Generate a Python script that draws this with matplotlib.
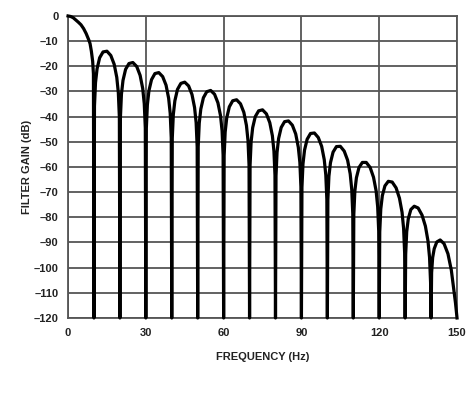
import matplotlib
matplotlib.use("Agg")
import matplotlib.pyplot as plt

# notches every 10 Hz, curve read lobe by lobe off the picture
lobe_start = [0, 10, 20, 30, 40, 50, 60, 70, 80, 90, 100, 110, 120, 130, 140]

# first lobe (0-10 Hz)
lobe1_freq = [0, 1, 2, 3, 4, 5, 6, 7, 8, 8.5, 9, 9.5, 9.8]
lobe1_gain = [0, -0.2, -0.7, -1.6, -2.5, -3.5, -5.0, -7.0, -9.5, -11.0, -14.0, -18.0, -23.0]

# the other lobes: same offsets from their left notch
lobe_offsets = [0.2, 0.6, 1.2, 2.2, 3.5, 5, 6.5, 7.8, 8.8, 9.4, 9.8]
lobe_gains = [
    [-35.8, -26.5, -21.0, -16.6, -14.3, -14.0, -15.7, -19.2, -24.4, -30.5, -40.2],
    [-40.5, -31.1, -25.6, -21.2, -18.9, -18.5, -20.1, -23.6, -28.8, -34.9, -44.5],
    [-44.6, -35.3, -29.7, -25.3, -22.9, -22.5, -24.1, -27.5, -32.7, -38.7, -48.4],
    [-48.6, -39.2, -33.7, -29.2, -26.8, -26.3, -27.8, -31.2, -36.4, -42.4, -52.0],
    [-51.9, -42.6, -37.0, -32.5, -30.1, -29.6, -31.1, -34.5, -39.6, -45.6, -55.3],
    [-55.5, -46.1, -40.5, -36.1, -33.7, -33.3, -34.9, -38.3, -43.5, -49.5, -59.2],
    [-59.3, -50.0, -44.4, -40.0, -37.7, -37.3, -38.9, -42.4, -47.6, -53.7, -63.3],
    [-63.5, -54.2, -48.7, -44.3, -42.0, -41.7, -43.4, -46.9, -52.2, -58.2, -67.9],
    [-68.1, -58.8, -53.3, -49.0, -46.7, -46.5, -48.3, -51.8, -57.1, -63.2, -72.9],
    [-73.0, -63.7, -58.3, -54.1, -51.9, -51.8, -53.7, -57.3, -62.7, -68.9, -78.6],
    [-78.9, -69.6, -64.3, -60.2, -58.2, -58.2, -60.2, -64.1, -69.5, -75.8, -85.5],
    [-85.8, -76.7, -71.4, -67.5, -65.7, -66.0, -68.3, -72.4, -78.0, -84.4, -94.2],
    [-94.7, -85.7, -80.6, -76.9, -75.6, -76.3, -79.1, -83.5, -89.4, -95.9, -105.9],
    [-102.0, -96.0, -92.5, -89.8, -89.0, -90.5, -94.5, -101.0, -109.0, -114.0, -118.0],
]
floor_db = -120

freq = list(lobe1_freq)
gain = list(lobe1_gain)
for start, g in zip(lobe_start[1:], lobe_gains):
    freq.append(start)
    gain.append(floor_db)
    freq += [start + o for o in lobe_offsets]
    gain += g
freq.append(150)
gain.append(floor_db)

xticks = [0, 30, 60, 90, 120, 150]
yticks = list(range(0, -130, -10))

plt.rcParams['font.family'] = ['Liberation Sans', 'DejaVu Sans']

fig = plt.figure(figsize=(4.74, 3.95), dpi=100)
ax = fig.add_axes([0.1435, 0.195, 0.8207, 0.7646])

ax.plot(freq, gain, color='black', lw=2.3, solid_joinstyle='round', zorder=3, clip_on=False)

ax.set_xlim(0, 150)
ax.set_ylim(-120, 0)
ax.set_xticks(xticks)
ax.set_yticks(yticks)
ax.set_xticklabels([str(t) for t in xticks], fontsize=8, fontweight='bold', color='#222222')
ax.set_yticklabels([str(t).replace('-', '\u2013') for t in yticks], fontsize=8,
                   fontweight='bold', color='#222222')
ax.tick_params(length=0, pad=7)
ax.grid(True, color='#555555', lw=1.3)
ax.set_axisbelow(True)
for sp in ax.spines.values():
    sp.set_color('#555555')
    sp.set_linewidth(1.3)

ax.set_xlabel('FREQUENCY (Hz)', fontsize=8, fontweight='bold', color='#222222', labelpad=10)
ax.set_ylabel('FILTER GAIN (dB)', fontsize=8, fontweight='bold', color='#222222', labelpad=1)

fig.savefig('out.png', dpi=100)
